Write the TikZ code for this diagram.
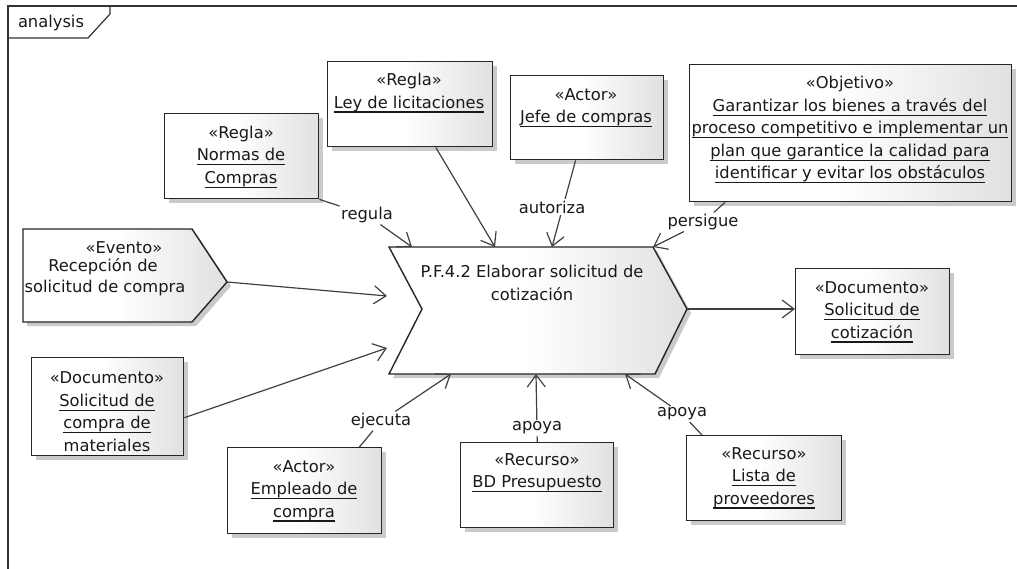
\documentclass[tikz,border=0pt]{standalone}
\usepackage{fontspec}
\setmainfont{DejaVu Sans}
\usetikzlibrary{arrows.meta,shadows}

% white on the left half, fading to light grey on the right
\pgfdeclarehorizontalshading{umlfill}{100bp}{color(0bp)=(white); color(25bp)=(white); color(48bp)=(white); color(75bp)=(black!12); color(100bp)=(black!12)}

\newsavebox{\ulsave}
\newcommand{\ulnm}[1]{\sbox{\ulsave}{#1}\rlap{\rule[-4.5pt]{\wd\ulsave}{1.2pt}}\usebox{\ulsave}}

\begin{document}
\begin{tikzpicture}[x=1pt,y=-1pt,
  font=\fontsize{16.3}{22.5}\selectfont,
  frame/.style={draw=black!80, line width=1.2pt},
  umlshade/.style={draw=black!85, line width=1.4pt, shading=umlfill,
    drop shadow={shadow xshift=4pt, shadow yshift=-4pt, fill=black!35, opacity=0.6}},
  objbox/.style={umlshade, inner sep=0pt, anchor=north west},
  txt/.style={align=center, inner sep=0pt, text=black!90},
  lbl/.style={inner sep=1.5pt, text=black!90},
  conn/.style={draw=black!75, line width=1.2pt},
  flow/.style={conn, -{Straight Barb[length=12pt,width=18pt,line width=1.2pt]}},
]
\useasboundingbox (0,0) rectangle (1017,569);

% diagram frame with its name tab
\draw[frame] (8,569) -- (8,6) -- (1017,6);
\draw[frame] (8,38) -- (88,38) -- (110,14) -- (110,6);
\node[lbl] (tabname) at (51,23) {analysis};

% central process (chevron)
\path[umlshade] (389,247) -- (653,247) -- (687,309) -- (655,374) -- (389,374) -- (422,309) -- cycle;
\node[txt] (proc) at (532,283) {P.F.4.2 Elaborar solicitud de\\cotización};

% input event (pentagon)
\path[umlshade] (23,229) -- (192,229) -- (227,282) -- (192,322) -- (23,322) -- cycle;
\node[txt] (ev1) at (124,248) {«Evento»};
\node[txt] (ev2) at (103,267) {Recepción de};
\node[txt] (ev3) at (105,288) {solicitud de compra};
\coordinate (evtip) at (227,282);

% anchor points on the chevron
\coordinate (t1) at (412,247);
\coordinate (t2) at (495,247);
\coordinate (t3) at (552,247);
\coordinate (t4) at (653,247);
\coordinate (t5) at (387,296);
\coordinate (t6) at (387,348);
\coordinate (t7) at (451,374);
\coordinate (t8) at (536,374);
\coordinate (t9) at (625,374);
\coordinate (ptip) at (687,309);

% element boxes
\node[objbox, minimum width=154pt, minimum height=85pt] (normas) at (164,113) {};
\node[txt] (normas-t) at (241,157) {«Regla»\\\ulnm{Normas de}\\\ulnm{Compras}};

\node[objbox, minimum width=165pt, minimum height=85pt] (ley) at (327,61) {};
\node[txt] (ley-t) at (409,93) {«Regla»\\\ulnm{Ley de licitaciones}};

\node[objbox, minimum width=153pt, minimum height=84pt] (jefe) at (510,75) {};
\node[txt] (jefe-t) at (586,108) {«Actor»\\\ulnm{Jefe de compras}};

\node[objbox, minimum width=322pt, minimum height=137pt] (objetivo) at (689,64) {};
\node[txt] (objetivo-t) at (850,130) {«Objetivo»\\\ulnm{Garantizar los bienes a través del}\\\ulnm{proceso competitivo e implementar un}\\\ulnm{plan que garantice la calidad para}\\\ulnm{identificar y evitar los obstáculos}};

\node[objbox, minimum width=152pt, minimum height=98pt] (doccompra) at (31,357) {};
\node[txt] (doccompra-t) at (107,414) {«Documento»\\\ulnm{Solicitud de}\\\ulnm{compra de}\\\ulnm{materiales}};

\node[objbox, minimum width=154pt, minimum height=86pt] (doccot) at (795,268) {};
\node[txt] (doccot-t) at (872,312) {«Documento»\\\ulnm{Solicitud de}\\\ulnm{cotización}};

\node[objbox, minimum width=154pt, minimum height=86pt] (empleado) at (227,447) {};
\node[txt] (empleado-t) at (304,491) {«Actor»\\\ulnm{Empleado de}\\\ulnm{compra}};

\node[objbox, minimum width=153pt, minimum height=85pt] (bd) at (460,442) {};
\node[txt] (bd-t) at (537,473) {«Recurso»\\\ulnm{BD Presupuesto}};

\node[objbox, minimum width=155pt, minimum height=85pt] (lista) at (686,435) {};
\node[txt] (lista-t) at (764,478) {«Recurso»\\\ulnm{Lista de}\\\ulnm{proveedores}};

% connector labels
\node[lbl] (regula) at (367,215) {regula};
\node[lbl] (persigue) at (703,222) {persigue};
\node[lbl] (ejecuta) at (381,421) {ejecuta};
\node[lbl] (apoya1) at (537,428) {apoya};
\node[lbl] (apoya2) at (682,414) {apoya};

% connectors
\draw[flow] (normas.south east) -- (regula) -- (t1);
\draw[flow] (ley) -- (t2);
\draw[flow] (jefe) -- (t3);
\node[lbl, fill=white] (autoriza) at (552,207) {autoriza};
\draw[flow] ([xshift=36pt]objetivo.south west) -- (persigue) -- (t4);
\draw[flow] (evtip) -- (t5);
\draw[flow] ([yshift=-11pt]doccompra.east) -- (t6);
\draw[flow] (ptip) -- (ptip -| doccot.west);
\draw[flow] ([xshift=-23pt]empleado.north east) -- (ejecuta) -- (t7);
\draw[flow] (bd.north) -- (apoya1) -- (t8);
\draw[flow] ([xshift=16pt]lista.north west) -- (apoya2) -- (t9);
\end{tikzpicture}
\end{document}
